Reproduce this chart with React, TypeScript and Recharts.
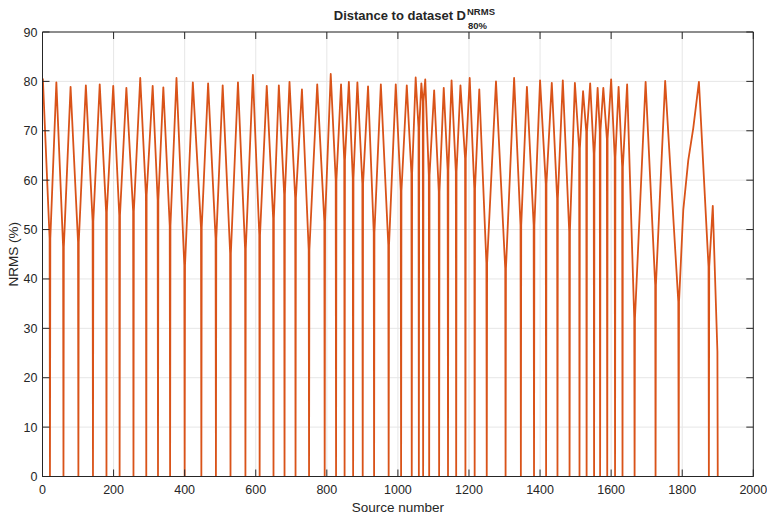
import React from 'react';
import { LineChart, Line, XAxis, YAxis, CartesianGrid, ReferenceArea, Customized } from 'recharts';

// ---- data ----
const startSources = [1];
const startValues = [80.6];

// sources belonging to the dataset (distance 0) and the distance just next to them
const zeroSources = [21, 59, 101, 142, 180, 217, 256, 292, 325, 359, 400, 447, 488, 529, 571, 611, 650, 681, 712, 750, 794, 826, 850, 874, 901, 933, 974, 1009, 1039, 1059, 1071, 1088, 1116, 1141, 1164, 1190, 1216, 1250, 1303, 1346, 1383, 1417, 1449, 1483, 1511, 1531, 1552, 1569, 1589, 1611, 1632, 1666, 1725, 1790, 1875];
const troughValues = [48.2, 46.5, 47.5, 51.7, 53.5, 52.9, 53.7, 57.0, 56.0, 50.8, 42.8, 50.4, 48.2, 45.2, 46.1, 48.9, 52.3, 57.1, 56.4, 45.9, 51.7, 60.0, 64.1, 60.4, 59.3, 49.4, 46.9, 57.8, 61.4, 70.6, 76.0, 61.0, 57.7, 62.0, 61.7, 64.4, 58.3, 43.2, 42.1, 50.9, 50.9, 59.3, 56.3, 49.6, 66.4, 69.8, 65.4, 70.1, 68.4, 64.7, 62.7, 32.0, 38.8, 35.4, 42.5];

// local maxima between dataset sources
const peakSources = [39, 79, 122, 161, 199, 236, 275, 310, 340, 377, 423, 466, 507, 550, 592, 631, 665, 695, 730, 773, 811, 840, 862, 886, 916, 952, 994, 1025, 1050, 1066, 1077, 1102, 1129, 1151, 1176, 1202, 1229, 1276, 1327, 1363, 1400, 1433, 1464, 1498, 1521, 1541, 1562, 1578, 1600, 1621, 1645, 1697, 1752, 1847, 1886];
const peakValues = [79.8, 78.9, 79.2, 79.4, 79.1, 78.7, 80.7, 79.1, 78.8, 80.7, 79.8, 79.6, 79.2, 79.8, 81.3, 79.1, 79.2, 79.9, 78.4, 79.4, 81.5, 79.4, 79.9, 79.8, 79.0, 79.4, 79.4, 79.2, 80.8, 79.6, 80.4, 78.2, 78.7, 80.2, 79.2, 80.7, 78.4, 80.0, 80.7, 78.9, 80.2, 79.7, 80.2, 79.7, 78.0, 79.6, 78.7, 78.7, 80.4, 78.9, 79.4, 79.9, 80.1, 79.9, 54.8];

// other points
const extraSources = [1803, 1817, 1831, 1899, 1900];
const extraValues = [54.0, 64.0, 70.5, 25.3, 0];

const xTicks = [0, 200, 400, 600, 800, 1000, 1200, 1400, 1600, 1800, 2000];
const yTicks = [0, 10, 20, 30, 40, 50, 60, 70, 80, 90];

// ---- build table ----
const pts: { x: number; y: number }[] = [];
startSources.forEach((s, i) => pts.push({ x: s, y: startValues[i] }));
zeroSources.forEach((s, i) => {
  pts.push({ x: s - 1, y: troughValues[i] });
  pts.push({ x: s, y: 0 });
  pts.push({ x: s + 1, y: troughValues[i] });
});
peakSources.forEach((s, i) => pts.push({ x: s, y: peakValues[i] }));
extraSources.forEach((s, i) => pts.push({ x: s, y: extraValues[i] }));
pts.sort((a, b) => a.x - b.x);

// ---- layout ----
const W = 767;
const H = 521;
const PL = 42.5;
const PR = 753.3;
const PT = 32;
const PB = 476.5;
const FONT = '"Liberation Sans", Arial, Helvetica, sans-serif';
const TXT = '#262626';
const TL = 7;

const XTick = (props: any) => {
  const { x, payload } = props;
  return (
    <g>
      <line x1={x} x2={x} y1={PB} y2={PB - TL} stroke={TXT} strokeWidth={1} />
      <line x1={x} x2={x} y1={PT} y2={PT + TL} stroke={TXT} strokeWidth={1} />
      <text x={x} y={PB + 17} textAnchor="middle" fontSize={12.5} fontFamily={FONT} fill={TXT}>
        {payload.value}
      </text>
    </g>
  );
};

const YTick = (props: any) => {
  const { y, payload } = props;
  return (
    <g>
      <line x1={PL} x2={PL + TL} y1={y} y2={y} stroke={TXT} strokeWidth={1} />
      <line x1={PR} x2={PR - TL} y1={y} y2={y} stroke={TXT} strokeWidth={1} />
      <text x={PL - 5} y={y} dy="0.36em" textAnchor="end" fontSize={12.5} fontFamily={FONT} fill={TXT}>
        {payload.value}
      </text>
    </g>
  );
};

const Texts = () => (
  <g fontFamily={FONT} fill={TXT}>
    <text x={466} y={20} textAnchor="end" fontSize={13} fontWeight="bold">
      Distance to dataset D
    </text>
    <text x={467} y={14.5} fontSize={9.5} fontWeight="bold">
      NRMS
    </text>
    <text x={468} y={28.5} fontSize={9.5} fontWeight="bold">
      80%
    </text>
    <text x={(PL + PR) / 2} y={512} textAnchor="middle" fontSize={13.5}>
      Source number
    </text>
    <text
      x={18}
      y={(PT + PB) / 2}
      textAnchor="middle"
      fontSize={13.5}
      transform={`rotate(-90 18 ${(PT + PB) / 2})`}
    >
      NRMS (%)
    </text>
  </g>
);

export default function App() {
  const XH = 30;
  const YW = 35;
  return (
    <div style={{ position: 'fixed', left: 0, top: 0, width: W, height: H, background: '#fff' }}>
      <LineChart
        width={W}
        height={H}
        data={pts}
        margin={{ top: PT, left: PL - YW, right: W - PR, bottom: H - PB - XH }}
      >
        <CartesianGrid stroke="#e6e6e6" strokeWidth={1} />
        <XAxis
          type="number"
          dataKey="x"
          domain={[0, 2000]}
          ticks={xTicks}
          interval={0}
          height={XH}
          axisLine={{ stroke: TXT, strokeWidth: 1 }}
          tickLine={false}
          tick={<XTick />}
          allowDataOverflow
        />
        <YAxis
          type="number"
          domain={[0, 90]}
          ticks={yTicks}
          interval={0}
          width={YW}
          axisLine={{ stroke: TXT, strokeWidth: 1 }}
          tickLine={false}
          tick={<YTick />}
          allowDataOverflow
        />
        <Line
          type="linear"
          dataKey="y"
          stroke="#D95319"
          strokeWidth={1.8}
          strokeLinejoin="round"
          dot={false}
          activeDot={false}
          isAnimationActive={false}
        />
        <ReferenceArea x1={0} x2={2000} y1={0} y2={90} fill="none" stroke={TXT} strokeWidth={1} ifOverflow="visible" />
        <Customized component={Texts} />
      </LineChart>
    </div>
  );
}
